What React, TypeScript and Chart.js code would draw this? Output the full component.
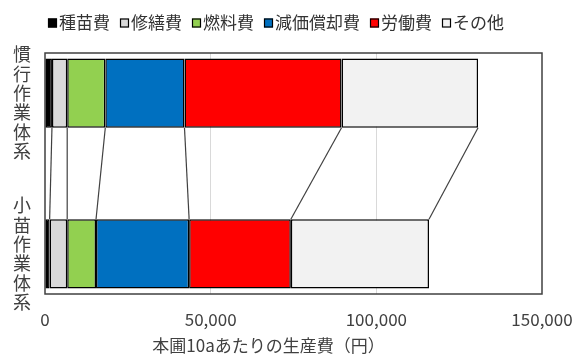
import React, { useEffect, useRef } from 'react';
import { Chart, registerables } from 'chart.js';

Chart.register(...registerables);

const categories = ['慣行作業体系', '', '小苗作業体系'];
const seriesNames = ['種苗費', '修繕費', '燃料費', '減価償却費', '労働費', 'その他'];
const seedCost = [2100, null, 1400];
const repairCost = [4600, null, 5300];
const fuelCost = [11500, null, 8700];
const depreciationCost = [23900, null, 28100];
const laborCost = [47400, null, 30700];
const otherCost = [41200, null, 41700];
const xTickValues = [0, 50000, 100000, 150000];
const xTitle = '本圃10aあたりの生産費（円）';
const seriesColors = ['#000000', '#d9d9d9', '#92d050', '#0070c0', '#ff0000', '#f2f2f2'];

const FONT = '"Noto Sans CJK JP", "Noto Sans", sans-serif';
const TEXT = '#404040';

const seriesValues = [seedCost, repairCost, fuelCost, depreciationCost, laborCost, otherCost];

const boxPlugin = {
  id: 'plotBox',
  beforeDatasetsDraw(chart: any) {
    const { ctx, chartArea: a } = chart;
    ctx.save();
    ctx.strokeStyle = '#404040';
    ctx.lineWidth = 1.5;
    ctx.strokeRect(a.left, a.top, a.right - a.left, a.bottom - a.top);
    ctx.restore();
  },
};

const seriesLinesPlugin = {
  id: 'seriesLines',
  afterDatasetsDraw(chart: any) {
    const { ctx } = chart;
    ctx.save();
    ctx.strokeStyle = '#404040';
    ctx.lineWidth = 1.2;
    chart.data.datasets.forEach((_d: any, i: number) => {
      const meta = chart.getDatasetMeta(i);
      const a = meta.data[0];
      const b = meta.data[2];
      if (!a || !b) return;
      ctx.beginPath();
      ctx.moveTo(a.x, a.y + a.height / 2);
      ctx.lineTo(b.x, b.y - b.height / 2);
      ctx.stroke();
    });
    ctx.restore();
  },
};

const legendPlugin = {
  id: 'customLegend',
  afterDraw(chart: any) {
    const { ctx } = chart;
    ctx.save();
    ctx.font = `17px ${FONT}`;
    ctx.textBaseline = 'middle';
    ctx.textAlign = 'left';
    let x = 48;
    const y = 23;
    chart.data.datasets.forEach((d: any) => {
      ctx.fillStyle = d.backgroundColor;
      ctx.fillRect(x, y - 4.5, 9, 9);
      ctx.strokeStyle = '#000';
      ctx.lineWidth = 1.2;
      ctx.strokeRect(x + 0.5, y - 4, 8, 8);
      ctx.fillStyle = '#333';
      ctx.fillText(d.label, x + 11, y);
      x += 11 + ctx.measureText(d.label).width + 10;
    });
    ctx.restore();
  },
};

const axisTitlePlugin = {
  id: 'xAxisTitle',
  afterDraw(chart: any) {
    const { ctx, chartArea: a } = chart;
    ctx.save();
    ctx.font = `17px ${FONT}`;
    ctx.fillStyle = TEXT;
    ctx.textAlign = 'center';
    ctx.textBaseline = 'middle';
    ctx.fillText(xTitle, (a.left + a.right) / 2 - 25, 346);
    ctx.restore();
  },
};

export default function App() {
  const ref = useRef<HTMLCanvasElement>(null);
  useEffect(() => {
    const chart = new Chart(ref.current as HTMLCanvasElement, {
      type: 'bar',
      data: {
        labels: categories,
        datasets: seriesValues.map((vals, i) => ({
          label: seriesNames[i],
          data: vals,
          backgroundColor: seriesColors[i],
          borderColor: '#000000',
          borderWidth: 1.5,
          borderSkipped: false,
          barPercentage: 0.86,
          categoryPercentage: 1,
        })),
      } as any,
      options: {
        indexAxis: 'y',
        responsive: false,
        animation: false,
        devicePixelRatio: 1,
        layout: { padding: { top: 53, right: 34, left: 0, bottom: 0 } },
        plugins: {
          legend: { display: false },
          tooltip: { enabled: false },
        },
        scales: {
          x: {
            stacked: true,
            min: 0,
            max: 150000,
            afterBuildTicks: (axis: any) => {
              axis.ticks = xTickValues.map((v) => ({ value: v }));
            },
            afterFit: (axis: any) => {
              axis.height = 62;
              axis.paddingLeft = 0;
              axis.paddingRight = 0;
            },
            ticks: {
              font: { family: FONT, size: 17 },
              color: TEXT,
              padding: 15,
              maxRotation: 0,
              callback: (v: any) => Number(v).toLocaleString('en-US'),
            },
            grid: {
              drawTicks: false,
              color: (c: any) =>
                c.tick && (c.tick.value === 0 || c.tick.value === 150000) ? 'rgba(0,0,0,0)' : '#d9d9d9',
            },
            border: { display: false },
          },
          y: {
            stacked: true,
            grid: { display: false, drawTicks: false },
            border: { display: false },
            ticks: {
              font: { family: FONT, size: 18, lineHeight: 1.08 },
              color: TEXT,
              padding: 14,
              autoSkip: false,
              callback: (_v: any, i: number) => {
                const s = categories[i];
                if (!s) return '';
                const chars = s.split('');
                return i === 0 ? ['', ...chars] : chars;
              },
            },
            afterFit: (axis: any) => {
              axis.width = 45;
              axis.paddingTop = 0;
              axis.paddingBottom = 0;
            },
          },
        },
      } as any,
      plugins: [boxPlugin, seriesLinesPlugin, legendPlugin, axisTitlePlugin],
    });
    return () => chart.destroy();
  }, []);
  return (
    <div style={{ position: 'absolute', left: 0, top: 0, width: 576, height: 356, background: '#fff' }}>
      <canvas ref={ref} width={576} height={356} style={{ display: 'block', width: 576, height: 356 }} />
    </div>
  );
}
